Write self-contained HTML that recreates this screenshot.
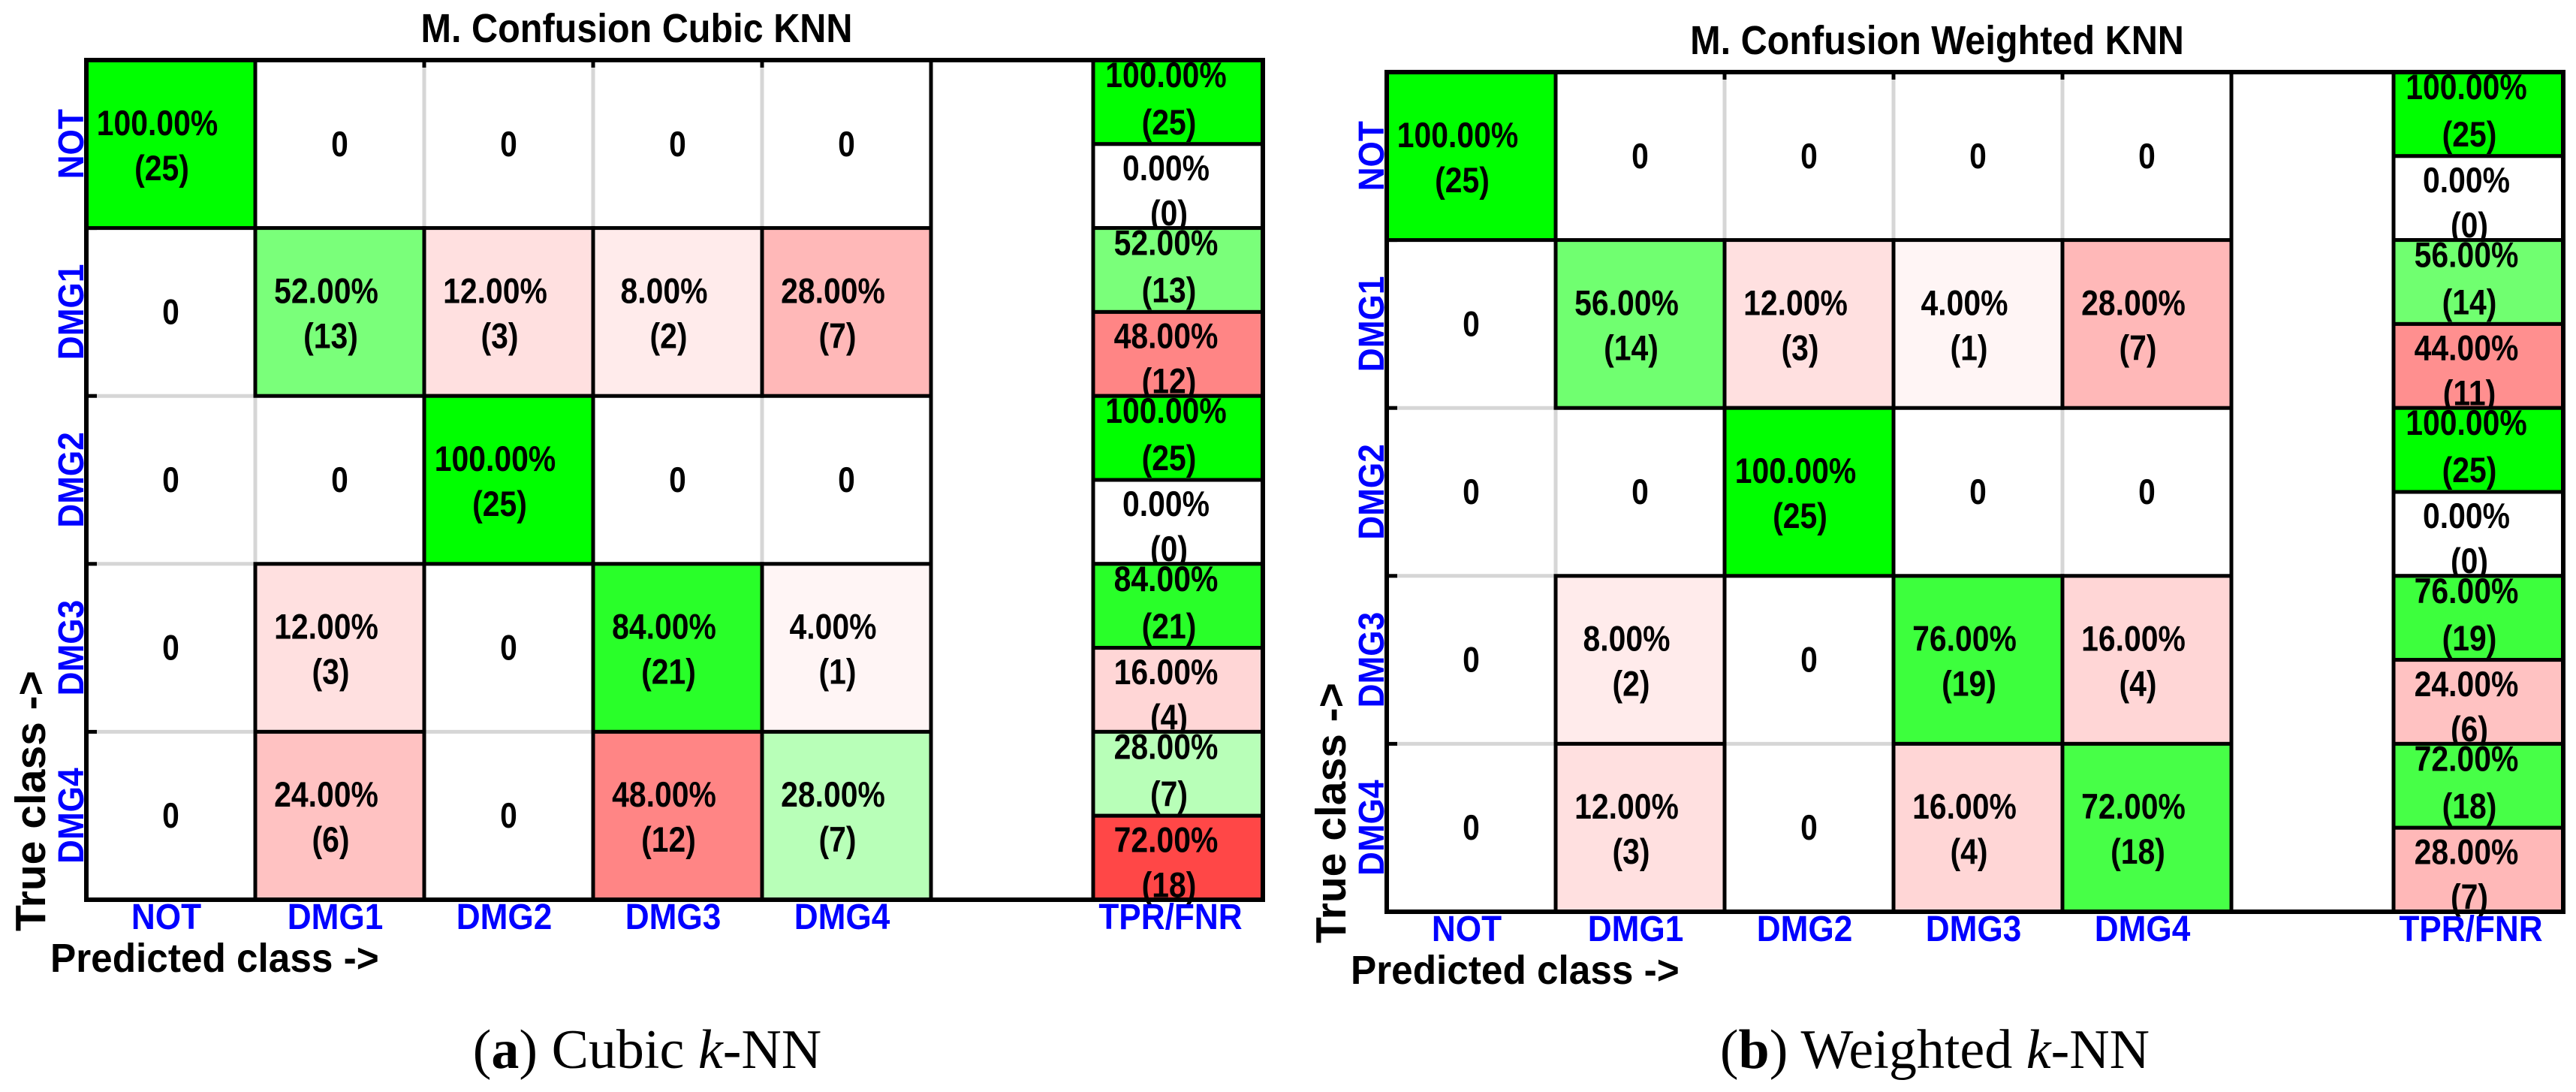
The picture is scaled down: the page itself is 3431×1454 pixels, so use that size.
<!DOCTYPE html>
<html><head><meta charset="utf-8"><style>
html,body{margin:0;padding:0;background:#fff;overflow:hidden;}
svg{display:block;}
text{font-family:"Liberation Sans",sans-serif;}
</style></head><body>
<svg id="fig" width="3431" height="1454" viewBox="0 0 3431 1454" xmlns="http://www.w3.org/2000/svg"></svg>
<script>
const classes = ["NOT","DMG1","DMG2","DMG3","DMG4"];
const countsA = [
  [25,0,0,0,0],
  [0,13,3,2,7],
  [0,0,25,0,0],
  [0,3,0,21,1],
  [0,6,0,12,7]
];
const countsB = [
  [25,0,0,0,0],
  [0,14,3,1,7],
  [0,0,25,0,0],
  [0,2,0,19,4],
  [0,3,0,4,18]
];
const titles = ["M. Confusion Cubic KNN","M. Confusion Weighted KNN"];
const captionLetters = ["a","b"];
const captionNames = ["Cubic ","Weighted "];

const NS="http://www.w3.org/2000/svg";
const svg=document.getElementById('fig');
function mk(tag,attrs,parent){const e=document.createElementNS(NS,tag);for(const k in attrs)e.setAttribute(k,attrs[k]);(parent||svg).appendChild(e);return e;}
function txt(s,attrs,parent){const e=mk('text',attrs,parent);e.textContent=s;return e;}
function green(p){const v=Math.round(255*(1-p));return `rgb(${v},255,${v})`;}
function red(p){const v=Math.round(255*(1-p));return `rgb(255,${v},${v})`;}
const condensed=[];

function drawChart(counts,idx,ox,oy,capX){
  const g=mk('g',{});
  
  
  const L=115+ox,T=80+oy,cw=225,ch=223.6,n=classes.length;
  const tprL=1456+ox,tprW=226,R=tprL+tprW,B=T+ch*n;
  const xCell=i=>L+i*cw, yCell=j=>T+j*ch;
  const t=txt(titles[idx],{x:848+ox,y:56+oy,'text-anchor':'middle','font-size':54,'font-weight':'bold'},g);
  
  
  condensed.push([t,0.9]);
  for(let i=1;i<n;i++){
    mk('line',{x1:xCell(i),y1:T,x2:xCell(i),y2:B,stroke:'#d6d6d6','stroke-width':5},g);
    mk('line',{x1:L,y1:yCell(i),x2:xCell(n),y2:yCell(i),stroke:'#d6d6d6','stroke-width':5},g);
    mk('line',{x1:xCell(i),y1:T,x2:xCell(i),y2:T+10,stroke:'#000','stroke-width':5},g);
    mk('line',{x1:L,y1:yCell(i),x2:L+14,y2:yCell(i),stroke:'#000','stroke-width':5},g);
  }
  for(let r=0;r<n;r++){
    const tot=counts[r].reduce((a,b)=>a+b,0);
    for(let c=0;c<n;c++){
      const v=counts[r][c],p=v/tot;
      const x=xCell(c),y=yCell(r);
      if(v>0){
        const rc=mk('rect',{x:x,y:y,width:cw,height:ch,fill:r===c?green(p):red(p),stroke:'#000','stroke-width':5},g);
        
        
        const a=txt((p*100).toFixed(2)+'%',{x:x+cw/2-18,y:y+ch/2-12,'text-anchor':'middle','font-size':47,'font-weight':'bold'},g);
        
        
        condensed.push([a,0.87]);
        const b=txt('('+v+')',{x:x+cw/2-12,y:y+ch/2+48,'text-anchor':'middle','font-size':47,'font-weight':'bold'},g);
        
        
        condensed.push([b,0.87]);
      } else {
        const a=txt('0',{x:x+cw/2,y:y+ch/2+16,'text-anchor':'middle','font-size':47,'font-weight':'bold'},g);
        
        
        condensed.push([a,0.87]);
      }
    }
    const tp=counts[r][r], fn=tot-tp, y=yCell(r), hh=ch/2;
    const parts=[[tp,green(tp/tot),y,'tpr'],[fn,fn>0?red(fn/tot):'#fff',y+hh,'fnr']];
    parts.forEach(([v,col,yy,nm],k)=>{
      const rc=mk('rect',{x:tprL,y:yy,width:tprW,height:hh,fill:col,stroke:'#000','stroke-width':5},g);
      
      
      const a=txt((v/tot*100).toFixed(2)+'%',{x:tprL+tprW/2-16,y:y+(k?144:20)+16,'text-anchor':'middle','font-size':47,'font-weight':'bold'},g);
      
      
      condensed.push([a,0.87]);
      const b=txt('('+v+')',{x:tprL+tprW/2-12,y:y+(k?204:83)+16,'text-anchor':'middle','font-size':47,'font-weight':'bold'},g);
      
      
      condensed.push([b,0.87]);
    });
  }
  mk('line',{x1:xCell(n),y1:T,x2:xCell(n),y2:B,stroke:'#000','stroke-width':5},g);
  mk('rect',{x:L,y:T,width:R-L,height:B-T,fill:'none',stroke:'#000','stroke-width':6},g);
  classes.forEach((c,i)=>{
    const cl=txt(c,{x:xCell(i)+cw/2-6,y:1237+oy,'text-anchor':'middle','font-size':48,'font-weight':'bold',fill:'#0000ff'},g);
    
    
    condensed.push([cl,0.92]);
    const cy=yCell(i)+ch/2;
    const rl=txt(c,{x:0,y:0,'text-anchor':'middle','font-size':48,'font-weight':'bold',fill:'#0000ff',transform:`translate(${111+ox},${cy}) rotate(-90)`},g);
    
    
    condensed.push([rl,0.92]);
  });
  const tl=txt('TPR/FNR',{x:tprL+tprW/2-10,y:1237+oy,'text-anchor':'middle','font-size':48,'font-weight':'bold',fill:'#0000ff'},g);
  
  
  condensed.push([tl,0.92]);
  const yl=txt('True class ->',{x:0,y:0,'text-anchor':'start','font-size':57,'font-weight':'bold',transform:`translate(${60+ox},${1240+oy}) rotate(-90)`},g);
  
  
  const xl=txt('Predicted class ->',{x:67+ox,y:1294+oy,'font-size':54,'font-weight':'bold'},g);
  
  
  condensed.push([xl,0.95]);
  const cap=mk('text',{x:capX,y:1422,'text-anchor':'middle','font-size':74,style:'font-family:"Liberation Serif",serif'});
  
  
  cap.innerHTML=`(<tspan font-weight="bold">${captionLetters[idx]}</tspan>) ${captionNames[idx]}<tspan font-style="italic">k</tspan>-NN`;
}
drawChart(countsA,0,0,0,862);
drawChart(countsB,1,1732,16,2577);
condensed.forEach(([el,f])=>{
  try{const w=el.getComputedTextLength();el.setAttribute('textLength',(w*f).toFixed(1));el.setAttribute('lengthAdjust','spacingAndGlyphs');}catch(e){}
});
</script>
</body></html>
